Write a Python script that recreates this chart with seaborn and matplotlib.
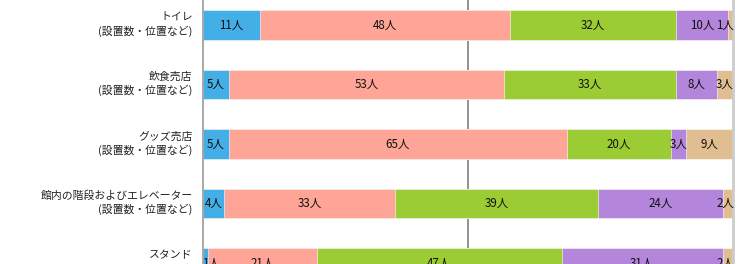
import numpy as np
import pandas as pd
import matplotlib
matplotlib.use("Agg")
import matplotlib.pyplot as plt
import matplotlib.transforms as mtransforms
import seaborn as sns

categories = [
    "トイレ\n(設置数・位置など)",
    "飲食売店\n(設置数・位置など)",
    "グッズ売店\n(設置数・位置など)",
    "館内の階段およびエレベーター\n(設置数・位置など)",
    "スタンド\n(座席の広さ・見やすさ・座り心地など)",
]
series_names = ["満足", "やや満足", "普通", "やや不満", "不満"]
s1 = [11, 5, 5, 4, 1]
s2 = [48, 53, 65, 33, 21]
s3 = [32, 33, 20, 39, 47]
s4 = [10, 8, 3, 24, 31]
s5 = [1, 3, 9, 2, 2]
colors = ["#44AEE6", "#FFA598", "#9BCC33", "#B386DC", "#E0BE92"]

sns.set_theme(style="white")
plt.rcParams["font.family"] = ["Noto Sans CJK JP", "DejaVu Sans"]

counts = np.array([s1, s2, s3, s4, s5], dtype=float)
totals = counts.sum(axis=0)
pct = counts / totals * 100
cum = np.cumsum(pct, axis=0)

W, H = 748, 264
fig = plt.figure(figsize=(W / 100, H / 100), dpi=100)
ax = fig.add_axes([203 / W, 0, 530 / W, 1])

# draw cumulative bars from the full stack down so they overlay into a stack
for i in range(len(series_names) - 1, -1, -1):
    df = pd.DataFrame({"cat": categories, "val": cum[i]})
    sns.barplot(data=df, x="val", y="cat", orient="h", color=colors[i],
                saturation=1, width=0.5, ax=ax, edgecolor="#FFFFFF",
                linewidth=0.4, zorder=2)

# value labels
for i in range(len(series_names)):
    for j in range(len(categories)):
        start = cum[i][j] - pct[i][j]
        cx = start + pct[i][j] / 2
        cx = min(max(cx, 1.5), 98.5)
        ax.text(cx, j, f"{int(counts[i][j])}人", ha="center", va="center",
                fontsize=8.3, color="#111111", zorder=5)

ax.set_xlim(0, 100)
ax.set_ylim(4.017, -0.42)
ax.axvline(50, color="#888888", lw=1.3, zorder=1)
ax.set_xlabel("")
ax.set_ylabel("")
ax.set_xticks([])
ax.tick_params(axis="y", length=0, pad=7.5, labelsize=7.8, colors="#222222")
shift = mtransforms.ScaledTranslation(0, 3 / 100, fig.dpi_scale_trans)
for lab in ax.get_yticklabels():
    lab.set_linespacing(1.3)
    lab.set_transform(lab.get_transform() + shift)
for sp in ["top", "bottom"]:
    ax.spines[sp].set_visible(False)
ax.spines["left"].set_color("#999999")
ax.spines["left"].set_linewidth(1.2)
ax.spines["right"].set_color("#CCCCCC")
ax.spines["right"].set_linewidth(2)

fig.savefig("out.png", dpi=100)
